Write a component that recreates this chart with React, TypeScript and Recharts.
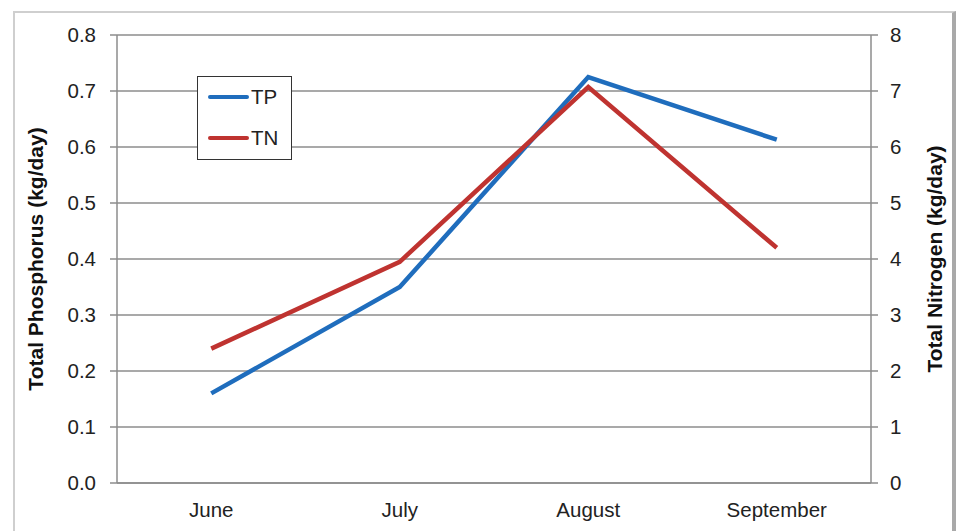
import React from 'react';
import { LineChart, Line, XAxis, YAxis, CartesianGrid, Legend } from 'recharts';

// Monthly loads
const months = ['June', 'July', 'August', 'September'];
const tpLoad = [0.16, 0.35, 0.725, 0.613]; // kg/day
const tnLoad = [2.4, 3.95, 7.07, 4.2]; // kg/day
const tpTicks = [0, 0.1, 0.2, 0.3, 0.4, 0.5, 0.6, 0.7, 0.8];
const tnTicks = [0, 1, 2, 3, 4, 5, 6, 7, 8];
const boundaryTicks = [0, 1, 2, 3, 4];

const data = months.map((m, i) => ({ month: m, TP: tpLoad[i], TN: tnLoad[i] }));

const BLUE = '#1f6dbd';
const RED = '#bf3330';
const GRID = '#8c8c8c';
const TEXT = '#222';
const FONT = '"Liberation Sans", Arial, sans-serif';
const TICK_SIZE = 20.5;
const TITLE_SIZE = 21;

const LegendBox = () => (
  <div
    style={{
      width: 95,
      height: 84,
      boxSizing: 'border-box',
      border: '1.5px solid #333',
      background: '#fff',
      fontFamily: FONT,
      fontSize: TICK_SIZE,
      color: TEXT,
      position: 'relative',
    }}
  >
    {[
      { name: 'TP', color: BLUE, top: 20 },
      { name: 'TN', color: RED, top: 61 },
    ].map((it) => (
      <div key={it.name} style={{ position: 'absolute', left: 10, top: it.top - 12, height: 24, display: 'flex', alignItems: 'center' }}>
        <div style={{ width: 41, height: 4.5, borderRadius: 3, background: it.color }} />
        <span style={{ marginLeft: 2 }}>{it.name}</span>
      </div>
    ))}
  </div>
);

export default function App() {
  return (
    <div style={{ position: 'absolute', left: 0, top: 0, width: 961, height: 531, background: '#fff' }}>
      <div
        style={{
          position: 'absolute',
          left: 13,
          top: 11,
          width: 943,
          height: 530,
          borderLeft: '2px solid #cfcfcf',
          borderTop: '2px solid #cfcfcf',
          borderRight: '4px solid #a9a9a9',
          boxSizing: 'border-box',
        }}
      />
      <div style={{ position: 'absolute', left: 0, top: 0 }}>
        <LineChart width={961} height={531} data={data} margin={{ top: 35, left: 17, right: 10, bottom: 8 }}>
          <CartesianGrid vertical={false} stroke={GRID} strokeWidth={1.5} yAxisId="tp" />
          <XAxis
            xAxisId="bnd"
            type="number"
            domain={[0, 4]}
            ticks={boundaryTicks}
            tick={false}
            axisLine={false}
            tickLine={{ stroke: GRID, strokeWidth: 1.5 }}
            tickSize={6}
            height={0}
            allowDataOverflow
          />
          <XAxis
            dataKey="month"
            scale="band"
            axisLine={{ stroke: GRID, strokeWidth: 1.5 }}
            tickLine={false}
            tickSize={0}
            tickMargin={19}
            height={40}
            tick={{ fill: TEXT, fontSize: TICK_SIZE, fontFamily: FONT }}
          />
          <YAxis
            yAxisId="tp"
            domain={[0, 0.8]}
            ticks={tpTicks}
            tickFormatter={(v: number) => v.toFixed(1)}
            width={100}
            tickSize={7}
            tickMargin={14}
            axisLine={{ stroke: GRID, strokeWidth: 1.5 }}
            tickLine={{ stroke: GRID, strokeWidth: 1.5 }}
            tick={{ fill: TEXT, fontSize: TICK_SIZE, fontFamily: FONT }}
            label={{
              value: 'Total Phosphorus (kg/day)',
              angle: -90,
              position: 'insideLeft',
              offset: 19,
              style: { textAnchor: 'middle', fill: '#111', fontSize: TITLE_SIZE, fontWeight: 'bold', fontFamily: FONT },
            }}
          />
          <YAxis
            yAxisId="tn"
            orientation="right"
            domain={[0, 8]}
            ticks={tnTicks}
            width={80}
            tickSize={7}
            tickMargin={12}
            axisLine={{ stroke: GRID, strokeWidth: 1.5 }}
            tickLine={{ stroke: GRID, strokeWidth: 1.5 }}
            tick={{ fill: TEXT, fontSize: TICK_SIZE, fontFamily: FONT }}
            label={{
              value: 'Total Nitrogen (kg/day)',
              angle: -90,
              position: 'insideRight',
              offset: 16,
              style: { textAnchor: 'middle', fill: '#111', fontSize: TITLE_SIZE, fontWeight: 'bold', fontFamily: FONT },
            }}
          />
          <Legend
            content={() => <LegendBox />}
            layout="vertical"
            verticalAlign="middle"
            align="center"
            wrapperStyle={{ left: 197, top: 76, width: 95, height: 84 }}
          />
          <Line yAxisId="tp" dataKey="TP" stroke={BLUE} strokeWidth={4.5} dot={false} isAnimationActive={false} strokeLinejoin="miter" />
          <Line yAxisId="tn" dataKey="TN" stroke={RED} strokeWidth={4.5} dot={false} isAnimationActive={false} strokeLinejoin="miter" />
        </LineChart>
      </div>
    </div>
  );
}
